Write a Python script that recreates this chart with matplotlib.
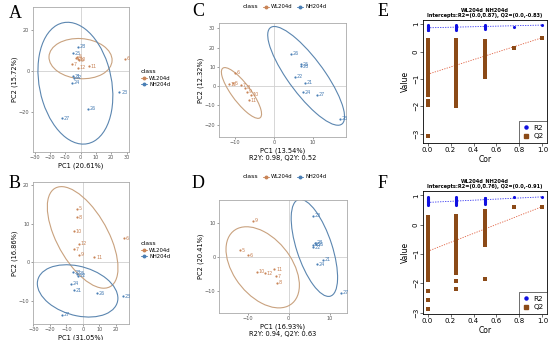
import matplotlib

matplotlib.use("Agg")

import matplotlib.pyplot as plt
from matplotlib.lines import Line2D
from matplotlib.patches import Ellipse

plt.rcParams["font.family"] = ["DejaVu Sans"]

WL_COLOR = "#c98457"
NH_COLOR = "#4a7fb5"
WL_ELL = "#c9a27f"
NH_ELL = "#5b86b0"

# sample labels
wl_labels = ["5", "6", "7", "8", "9", "10", "11", "12"]
nh_labels = ["21", "22", "23", "24", "25", "26", "27", "28"]

# panel A: PCA
a_wl_x = [-2.3, 28.7, -5.9, -3.0, -1.0, -1.6, 5.5, -1.6]
a_wl_y = [6.7, 5.9, 3.1, 6.0, 5.0, 5.6, 2.3, 1.5]
a_nh_x = [-4.8, -4.4, 25.3, -5.9, -4.8, 5.0, -12.4, -1.6]
a_nh_y = [-2.6, -3.4, -10.5, -5.9, 8.4, -18.4, -23.0, 11.6]
# ellipse: centre x, centre y, width, height, angle
a_wl_ellipse = [-0.05, 5.9, 41.1, 19.5, -2.6]
a_nh_ellipse = [-3.4, -6.05, 61.4, 46.0, -66.6]

# panel B: PCA
b_wl_x = [-3.4, 25.0, -5.3, -3.4, -2.6, -5.3, 6.9, -2.4]
b_wl_y = [13.9, 6.3, 3.4, 11.8, 2.0, 8.1, 1.4, 4.9]
b_nh_x = [-5.5, -2.8, 24.2, -7.3, -3.4, 8.5, -12.5, -5.9]
b_nh_y = [-7.2, -3.4, -8.8, -5.5, -3.0, -8.0, -13.6, -2.6]
b_wl_ellipse = [-0.2, 6.5, 46.4, 19.5, -25.0]
b_nh_ellipse = [-3.25, -7.4, 49.0, 13.0, -4.8]

# panel C: PLS-DA
c_wl_x = [-10.5, -10.0, -8.5, -7.5, -7.0, -6.0, -6.5, -11.5]
c_wl_y = [1.5, 6.8, 0.5, -1.0, -3.0, -4.5, -7.5, 1.0]
c_nh_x = [7.9, 5.3, 16.8, 7.4, 6.8, 4.4, 10.9, 6.9]
c_nh_y = [1.7, 4.9, -17.1, -3.3, 11.3, 16.7, -4.4, 10.3]
c_wl_ellipse = [-8.35, -3.6, 27.8, 5.5, -71.4]
c_nh_ellipse = [8.2, 5.3, 54.0, 10.5, -71.7]

# panel D: PLS-DA
d_wl_x = [-11.9, -9.9, -3.1, -2.9, -8.8, -7.8, -3.5, -5.8]
d_wl_y = [2.1, 0.6, -5.6, -7.6, 10.7, -4.3, -3.5, -4.7]
d_nh_x = [8.3, 6.0, 6.0, 6.9, 5.8, 6.6, 12.8, 6.4]
d_nh_y = [-0.7, 3.0, 12.2, -2.1, 3.6, 3.8, -10.5, 4.2]
d_wl_ellipse = [-6.35, -3.0, 26.0, 14.8, -62.0]
d_nh_ellipse = [6.25, 2.75, 29.6, 8.7, -75.2]

# panels E and F: permutation tests
perm_cor = [0.0, 0.25, 0.5]
e_r2_perm = [
    [0.97, 0.95, 0.93, 0.91, 0.9, 0.88, 0.86, 0.84, 0.82, 0.8, 0.78],
    [0.97, 0.95, 0.93, 0.91, 0.89, 0.87, 0.85, 0.83, 0.81, 0.79],
    [0.97, 0.95, 0.93, 0.91, 0.89, 0.87, 0.85, 0.83],
]
e_q2_perm = [
    [0.43, 0.35, 0.27, 0.19, 0.11, 0.03, -0.05, -0.13, -0.21, -0.29, -0.37, -0.45,
     -0.53, -0.61, -0.69, -0.77, -0.85, -0.93, -1.01, -1.09, -1.17, -1.25, -1.34,
     -1.43, -1.58, -1.82, -1.95, -3.1],
    [0.43, 0.35, 0.27, 0.19, 0.11, 0.03, -0.05, -0.13, -0.21, -0.29, -0.37, -0.45,
     -0.53, -0.61, -0.69, -0.77, -0.85, -0.93, -1.01, -1.09, -1.17, -1.25, -1.33,
     -1.41, -1.5, -1.58, -1.7, -1.85, -1.97],
    [0.39, 0.31, 0.23, 0.15, 0.07, -0.01, -0.09, -0.17, -0.25, -0.33, -0.41, -0.49,
     -0.57, -0.65, -0.72, -0.79, -0.85, -0.91],
]
e_r2_other = [(0.75, 0.91), (1.0, 0.97)]
e_q2_other = [(0.75, 0.12), (1.0, 0.51)]
e_intercepts = [0.87, -0.83]

f_r2_perm = [
    [0.94, 0.92, 0.9, 0.88, 0.86, 0.84, 0.82, 0.8, 0.78, 0.76, 0.74, 0.72, 0.7, 0.67],
    [0.93, 0.91, 0.89, 0.87, 0.85, 0.83, 0.81, 0.79, 0.77, 0.75, 0.73, 0.71, 0.68],
    [0.92, 0.9, 0.88, 0.86, 0.84, 0.82, 0.8, 0.78, 0.76, 0.73, 0.7],
]
f_q2_perm = [
    [0.26, 0.18, 0.1, 0.02, -0.06, -0.14, -0.22, -0.3, -0.38, -0.46, -0.54, -0.62,
     -0.7, -0.78, -0.86, -0.94, -1.02, -1.1, -1.18, -1.26, -1.34, -1.42, -1.5,
     -1.58, -1.66, -1.74, -1.82, -1.89, -2.27, -2.56, -2.88],
    [0.3, 0.22, 0.14, 0.06, -0.02, -0.1, -0.18, -0.26, -0.34, -0.42, -0.5, -0.58,
     -0.66, -0.74, -0.82, -0.9, -0.98, -1.06, -1.14, -1.22, -1.3, -1.43, -1.55,
     -1.66, -1.94, -2.2],
    [0.48, 0.4, 0.32, 0.24, 0.16, 0.08, 0.0, -0.08, -0.16, -0.24, -0.32, -0.4,
     -0.48, -0.56, -0.64, -0.7, -1.86],
]
f_r2_other = [(0.75, 0.93), (1.0, 0.95)]
f_q2_other = [(0.75, 0.6), (1.0, 0.62)]
f_intercepts = [0.76, -0.91]

fig = plt.figure(figsize=(5.5, 3.4), dpi=100)


def px_axes(left, top, right, bottom):
    return fig.add_axes([left / 550, 1 - bottom / 340, (right - left) / 550, (bottom - top) / 340])


def pca_panel(ax, wl_x, wl_y, nh_x, nh_y, wl_ell, nh_ell, xlim, ylim, xticks, yticks, xlabel, ylabel):
    ax.axhline(0, color="#d0d0d0", lw=0.6, zorder=0)
    ax.axvline(0, color="#d0d0d0", lw=0.6, zorder=0)
    for ell, col in ((wl_ell, WL_ELL), (nh_ell, NH_ELL)):
        ax.add_patch(Ellipse((ell[0], ell[1]), ell[2], ell[3], angle=ell[4],
                             fill=False, ec=col, lw=0.8, clip_on=True))
    for xs, ys, labels, col in ((wl_x, wl_y, wl_labels, WL_COLOR), (nh_x, nh_y, nh_labels, NH_COLOR)):
        ax.scatter(xs, ys, s=2.5, color=col, zorder=3, linewidths=0)
        for x, y, lab in zip(xs, ys, labels):
            ax.annotate(lab, (x, y), xytext=(1.2, 0), textcoords="offset points",
                        fontsize=3.5, color=col, va="center", ha="left", annotation_clip=True)
    ax.set_xlim(*xlim)
    ax.set_ylim(*ylim)
    ax.set_xticks(xticks)
    ax.set_yticks(yticks)
    ax.tick_params(labelsize=3.6, length=1.5, width=0.4, pad=1, colors="#555555", labelcolor="#555555")
    for sp in ax.spines.values():
        sp.set_color("#aaaaaa")
        sp.set_linewidth(0.6)
    ax.set_xlabel(xlabel, fontsize=4.8, labelpad=1.5, linespacing=1.2)
    ax.set_ylabel(ylabel, fontsize=4.8, labelpad=1)


def perm_panel(ax, r2_perm, q2_perm, r2_other, q2_other, intercepts, title):
    for cor, r2s, q2s in zip(perm_cor, r2_perm, q2_perm):
        ax.scatter([cor] * len(q2s), q2s, s=5, marker="s", color="#8b4a17", linewidths=0, zorder=3)
        ax.scatter([cor] * len(r2s), r2s, s=5, marker="o", color="#1010e0", linewidths=0, zorder=3)
    ax.scatter([p[0] for p in q2_other], [p[1] for p in q2_other], s=5, marker="s",
               color="#8b4a17", linewidths=0, zorder=3)
    ax.scatter([p[0] for p in r2_other], [p[1] for p in r2_other], s=5, marker="o",
               color="#1010e0", linewidths=0, zorder=3)
    ax.plot([0, 1], [intercepts[0], r2_other[-1][1]], ls=(0, (1.5, 1.5)), color="#3030f0", lw=0.6)
    ax.plot([0, 1], [intercepts[1], q2_other[-1][1]], ls=(0, (1.5, 1.5)), color="#e06040", lw=0.6)
    ax.set_xlim(-0.04, 1.04)
    ax.set_xticks([0.0, 0.2, 0.4, 0.6, 0.8, 1.0])
    ax.set_yticks([1, 0, -1, -2, -3])
    ax.tick_params(labelsize=5, length=2, width=0.4, pad=1)
    for lab in ax.get_yticklabels():
        lab.set_rotation(90)
        lab.set_va("center")
    for sp in ax.spines.values():
        sp.set_linewidth(0.6)
    ax.set_xlabel("Cor", fontsize=5.5, labelpad=1)
    ax.set_ylabel("Value", fontsize=5.5, labelpad=2)
    ax.set_title(title, fontsize=3.6, fontweight="bold", pad=2, linespacing=1.1)
    handles = [Line2D([], [], ls="none", marker="o", color="#1010e0", markersize=2.2),
               Line2D([], [], ls="none", marker="s", color="#8b4a17", markersize=2.2)]
    ax.legend(handles, ["R2", "Q2"], loc="lower right", fontsize=5.2, frameon=True, fancybox=False,
              edgecolor="black", handlelength=0.8, handletextpad=0.6, borderpad=0.5,
              labelspacing=0.35, borderaxespad=0.0).get_frame().set_linewidth(0.5)


ax_a = px_axes(33, 7, 129, 152)
pca_panel(ax_a, a_wl_x, a_wl_y, a_nh_x, a_nh_y, a_wl_ellipse, a_nh_ellipse,
          (-31, 31.5), (-39.5, 31), [-30, -20, -10, 0, 10, 20, 30], [-20, 0, 20],
          "PC1 (20.61%)", "PC2 (15.72%)")

ax_b = px_axes(33, 182, 129, 324)
pca_panel(ax_b, b_wl_x, b_wl_y, b_nh_x, b_nh_y, b_wl_ellipse, b_nh_ellipse,
          (-30.3, 27.9), (-16, 20.9), [-30, -20, -10, 0, 10, 20], [-10, 0, 10, 20],
          "PC1 (31.05%)", "PC2 (16.86%)")

ax_c = px_axes(219, 23, 346, 137)
pca_panel(ax_c, c_wl_x, c_wl_y, c_nh_x, c_nh_y, c_wl_ellipse, c_nh_ellipse,
          (-14.1, 18.4), (-26.5, 32.8), [-10, 0, 10], [-20, -10, 0, 10, 20, 30],
          "PC1 (13.54%)\nR2Y: 0.98, Q2Y: 0.52", "PC2 (12.32%)")

ax_d = px_axes(219, 200, 347, 313)
pca_panel(ax_d, d_wl_x, d_wl_y, d_nh_x, d_nh_y, d_wl_ellipse, d_nh_ellipse,
          (-17, 14.2), (-16.5, 16.9), [-10, 0, 10], [-10, 0, 10],
          "PC1 (16.93%)\nR2Y: 0.94, Q2Y: 0.63", "PC2 (20.41%)")

ax_e = px_axes(423, 20, 547, 143)
ax_e.set_ylim(-3.34, 1.155)
perm_panel(ax_e, e_r2_perm, e_q2_perm, e_r2_other, e_q2_other, e_intercepts,
           "WL204d_NH204d\nIntercepts:R2=(0.0,0.87), Q2=(0.0,-0.83)")

ax_f = px_axes(423, 191, 547, 314)
ax_f.set_ylim(-3.05, 1.15)
perm_panel(ax_f, f_r2_perm, f_q2_perm, f_r2_other, f_q2_other, f_intercepts,
           "WL204d_NH204d\nIntercepts:R2=(0.0,0.76), Q2=(0.0,-0.91)")

# class legends
key_handles = [Line2D([], [], color=WL_COLOR, marker="o", markersize=1.8, lw=0.6),
               Line2D([], [], color=NH_COLOR, marker="o", markersize=1.8, lw=0.6)]
for top in (78, 250):
    leg = fig.legend(key_handles, ["WL204d", "NH204d"], title="class", loc="center left",
                     bbox_to_anchor=(136 / 550, 1 - top / 340), fontsize=3.8, title_fontsize=4.5,
                     frameon=False, handlelength=1.2, handletextpad=0.4, labelspacing=0.3)
    leg._legend_box.align = "left"

for top in (7, 177):
    fig.text(250 / 550, 1 - top / 340, "class", fontsize=4.5, ha="center", va="center")
    fig.legend(key_handles, ["WL204d", "NH204d"], loc="center left", ncol=2,
               bbox_to_anchor=(258 / 550, 1 - top / 340), fontsize=3.8, frameon=False,
               handlelength=1.2, handletextpad=0.4, columnspacing=0.8)

# panel letters
for letter, x, y in (("A", 15, 14), ("B", 15, 184), ("C", 198, 12), ("D", 198, 183),
                     ("E", 383, 12), ("F", 383, 183)):
    fig.text(x / 550, 1 - y / 340, letter, fontsize=13, family="Liberation Serif",
             ha="center", va="center")

fig.savefig("out.png", dpi=100)
